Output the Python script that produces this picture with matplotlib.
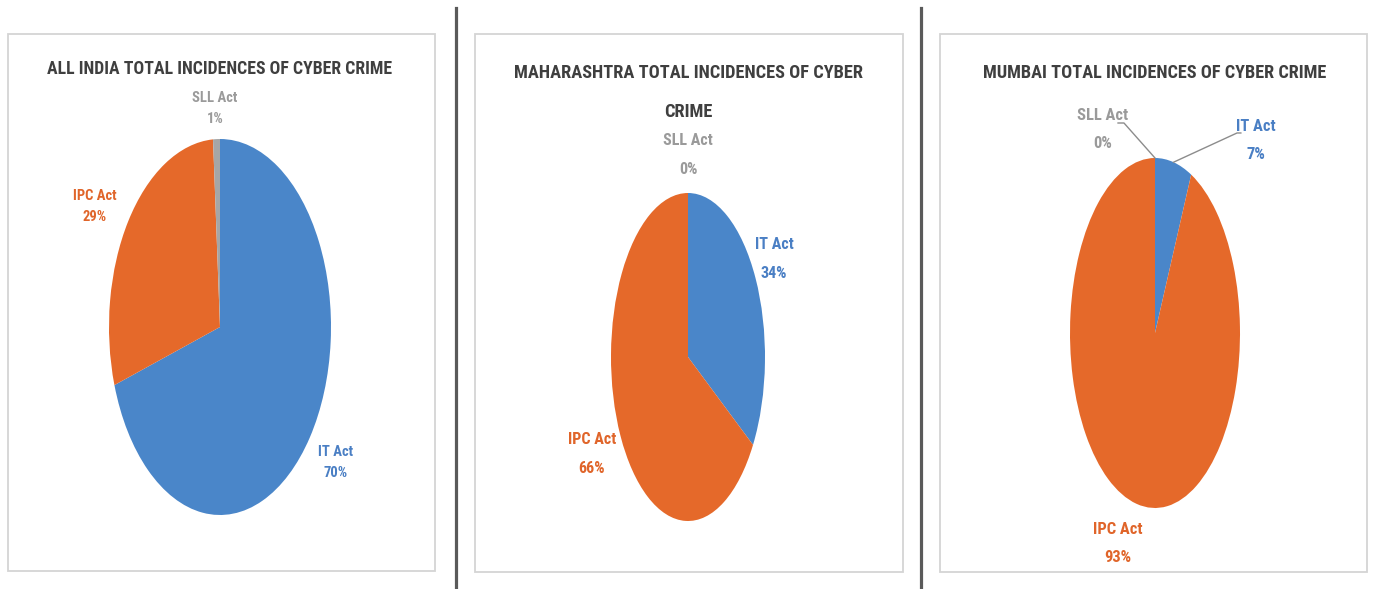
import numpy as np
import matplotlib
matplotlib.use("Agg")
import matplotlib.pyplot as plt
from matplotlib.patches import Rectangle
from matplotlib.lines import Line2D
from matplotlib import font_manager as fm

# ---------------- data ----------------
categories = ["IT Act", "IPC Act", "SLL Act"]
titles = ["ALL INDIA TOTAL INCIDENCES OF CYBER CRIME",
          "MAHARASHTRA TOTAL INCIDENCES OF CYBER\nCRIME",
          "MUMBAI TOTAL INCIDENCES OF CYBER CRIME"]
all_india = [70, 29, 1]
maharashtra = [34, 66, 0]
mumbai = [7, 93, 0]
pct_labels = [["70%", "29%", "1%"], ["34%", "66%", "0%"], ["7%", "93%", "0%"]]

colors = ["#4A86C9", "#E5692A", "#A6A6A6"]
label_colors = ["#4A7FC4", "#E0652A", "#9A9A9A"]

W, H = 1377, 589
fig = plt.figure(figsize=(W / 100, H / 100), dpi=100)
fig.patch.set_facecolor("white")


# ---- choose a bold condensed font if one is installed ----
def pick_font():
    pref = ["Liberation Sans Narrow", "Arial Narrow", "Roboto Condensed", "DejaVu Sans Condensed",
            "Noto Sans Condensed", "Open Sans Condensed", "Roboto", "Noto Sans"]
    best = None
    for f in fm.fontManager.ttflist:
        narrow = ("Narrow" in f.name or "Condensed" in f.name or
                  str(f.stretch) in ("condensed", "semi-condensed", "extra-condensed"))
        w = f.weight if isinstance(f.weight, int) else {"bold": 700, "semibold": 600}.get(f.weight, 400)
        if not narrow or w < 600 or f.style != "normal":
            continue
        score = 0
        for k, name in enumerate(pref):
            if name.split()[0] in f.name:
                score = 100 - k
                break
        if str(f.stretch) == "condensed" or "Narrow" in f.name:
            score += 5
        if w == 700:
            score += 2
        if best is None or score > best[0]:
            best = (score, f.fname)
    if best:
        return fm.FontProperties(fname=best[1])
    return fm.FontProperties(family="Liberation Sans", weight="bold")


FP = pick_font()
renderer = fig.canvas.get_renderer()


def fx(x):
    return x / W


def fy(y):
    return 1 - y / H


def fitted_text(x, y, s, width_px, color, ha="center", boost=1.0):
    t = fig.text(fx(x), fy(y), s, ha=ha, va="center", color=color, fontproperties=FP.copy())
    t.set_fontsize(12)
    wd = t.get_window_extent(renderer=renderer).width
    t.set_fontsize(12 * width_px / wd * boost)
    return t


# panel boxes and dividers
for (x0, y0, x1, y1) in [(8, 34, 435, 571), (475, 34, 903, 572), (940, 34, 1367, 572)]:
    fig.patches.append(Rectangle((fx(x0), fy(y1)), fx(x1) - fx(x0), fy(y0) - fy(y1),
                                 transform=fig.transFigure, fill=False,
                                 edgecolor="#D4D4D4", linewidth=1.3))
for xd in [456, 921]:
    fig.lines.append(Line2D([fx(xd), fx(xd)], [fy(8), fy(589)], transform=fig.transFigure,
                            color="#5A5A5A", linewidth=2.3))

# layout: pie centers / semi-axes in pixels
pies = [
    dict(vals=all_india, c=(220, 327), r=(111, 188), title_y=69, title_w=328, lsp=21, ipc_w=38,
         lab=[(1.045, -0.72), (-1.13, 0.64), (-0.045, 1.16)]),
    dict(vals=maharashtra, c=(688, 357), r=(77, 164), title_y=73, title_w=333, lsp=29, ipc_w=42,
         lab=[(1.12, 0.60), (-1.25, -0.59), (0.0, 1.23)]),
    dict(vals=mumbai, c=(1155, 333), r=(85, 175), title_y=73, title_w=328, lsp=28, ipc_w=43,
         lab=[(1.19, 1.10), (-0.435, -1.2), (-0.62, 1.16)]),
]

for i, p in enumerate(pies):
    cx, cy = p["c"]
    a, b = p["r"]
    ax = fig.add_axes([fx(cx - a), fy(cy + b), 2 * a / W, 2 * b / H])
    wedges, _ = ax.pie(p["vals"], colors=colors, startangle=90, counterclock=False,
                       radius=1.0, wedgeprops=dict(linewidth=0))
    ax.set_aspect("auto")
    ax.set_xlim(-1, 1)
    ax.set_ylim(-1, 1)
    ax.axis("off")

    # title (line by line)
    lines = titles[i].split("\n")
    t0 = fitted_text(cx, p["title_y"], lines[0], p["title_w"], "#3F3F3F", boost=1.05)
    for k, ln in enumerate(lines[1:], start=1):
        t = fig.text(fx(cx), fy(p["title_y"] + 39 * k), ln, ha="center", va="center",
                     color="#3F3F3F", fontproperties=FP.copy())
        t.set_fontsize(t0.get_fontsize())

    # data labels
    probe = fitted_text(0, 0, "IPC Act", p["ipc_w"], "white", boost=1.15)
    lfs = probe.get_fontsize()
    probe.remove()
    for j, cat in enumerate(categories):
        lx, ly = p["lab"][j]
        px, py = cx + lx * a, cy - ly * b
        for s, dy in [(cat, -p["lsp"] / 2), (pct_labels[i][j], p["lsp"] / 2)]:
            t = fig.text(fx(px), fy(py + dy), s, ha="center", va="center",
                         color=label_colors[j], fontproperties=FP.copy())
            t.set_fontsize(lfs)

    if i == 2:
        # leader lines for the Mumbai chart
        for j, (elbow, end) in {0: ((0.965, 1.143), (1.01, 1.143)),
                                 2: ((-0.365, 1.2), (-0.435, 1.2))}.items():
            w = wedges[j]
            mid = np.deg2rad((w.theta1 + w.theta2) / 2)
            sx, sy = np.cos(mid), np.sin(mid)
            ax.plot([sx, elbow[0], end[0]], [sy, elbow[1], end[1]], color="#8C8C8C",
                    linewidth=1.0, clip_on=False)

fig.savefig("out.png", dpi=100, facecolor="white")
